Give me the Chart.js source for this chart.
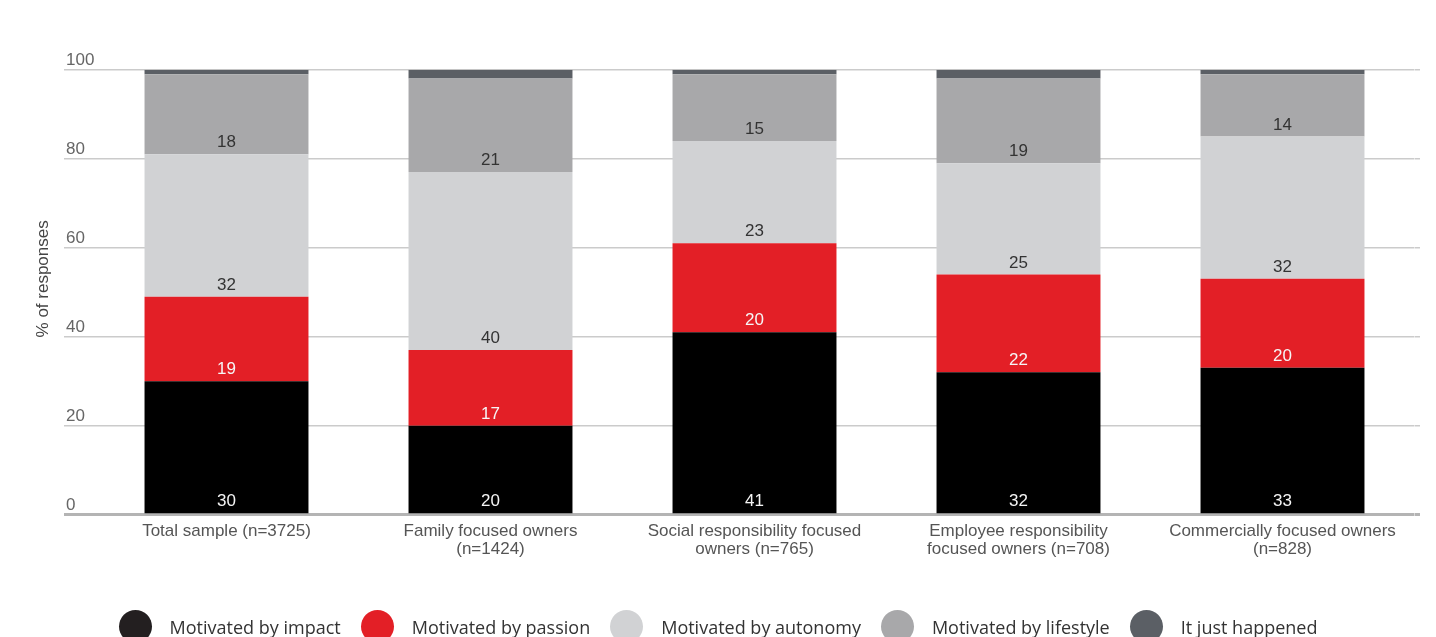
<!DOCTYPE html>
<html>
<head>
<meta charset="utf-8">
<script src="https://cdn.jsdelivr.net/npm/chart.js@4/dist/chart.umd.min.js"></script>
<style>
  html, body { margin: 0; padding: 0; background: #fff; overflow: hidden; }
  #wrap { position: relative; width: 1436px; height: 637px; overflow: hidden; }
  #legend {
    position: absolute; left: 0; top: 610px; width: 1436px; height: 33px;
    display: flex; justify-content: center; align-items: center;
    font-family: 'Open Sans', sans-serif; font-size: 18px; color: #333;
  }
  #legend .item { display: flex; align-items: center; margin-right: 20px; }
  #legend .item:last-child { margin-right: 0; }
  #legend .dot { width: 33px; height: 33px; border-radius: 50%; margin-right: 18px; }
</style>
</head>
<body>
<div id="wrap">
  <canvas id="motivations" width="1436" height="637"></canvas>
  <div id="legend"></div>
</div>
<script>
// categories (x axis labels, split into lines)
const categories = [
  ['Total sample (n=3725)'],
  ['Family focused owners', '(n=1424)'],
  ['Social responsibility focused', 'owners (n=765)'],
  ['Employee responsibility', 'focused owners (n=708)'],
  ['Commercially focused owners', '(n=828)']
]

const seriesNames = ['Motivated by impact', 'Motivated by passion', 'Motivated by autonomy', 'Motivated by lifestyle', 'It just happened']

// % of responses per group
const impact = [30, 20, 41, 32, 33]
const passion = [19, 17, 20, 22, 20]
const autonomy = [32, 40, 23, 25, 32]
const lifestyle = [18, 21, 15, 19, 14]
const justHappened = [1, 2, 1, 2, 1]

const yTicks = [0, 20, 40, 60, 80, 100]

const colors = ['#000000', '#e31f26', '#d1d2d4', '#a8a8aa', '#5b5f65']
const legendColors = ['#231f20', '#e31f26', '#d1d2d4', '#a8a8aa', '#5b5f65']
const labelColors = ['#f4f4f4', '#f6f6f6', '#333333', '#333333', null]

const fontFamily = "'Liberation Sans', Arial, sans-serif"
Chart.defaults.font.family = fontFamily

const seriesData = [impact, passion, autonomy, lifestyle, justHappened]

const prepareData = () => ({
  labels: categories,
  datasets: seriesData.map((values, i) => ({
    label: seriesNames[i],
    data: values,
    backgroundColor: colors[i],
    borderWidth: 0,
    labelColor: labelColors[i],
    categoryPercentage: 1,
    barPercentage: 0.621
  }))
})

// numbers sitting just above the bottom of each segment
const valueLabels = {
  id: 'valueLabels',
  afterDatasetsDraw(chart) {
    const ctx = chart.ctx
    ctx.save()
    ctx.font = '17px ' + fontFamily
    ctx.textAlign = 'center'
    ctx.textBaseline = 'middle'
    chart.data.datasets.forEach((ds, di) => {
      if (!ds.labelColor) return
      chart.getDatasetMeta(di).data.forEach((bar, i) => {
        const {x, base} = bar.getProps(['x', 'base'], true)
        ctx.fillStyle = ds.labelColor
        ctx.fillText(String(ds.data[i]), x, base - 11.5)
      })
    })
    ctx.restore()
  }
}

// rotated y axis title
const yTitle = {
  id: 'yTitle',
  afterDraw(chart) {
    const ctx = chart.ctx
    const y = chart.scales.y.getPixelForValue(53)
    ctx.save()
    ctx.translate(43, y)
    ctx.rotate(-Math.PI / 2)
    ctx.font = '17px ' + fontFamily
    ctx.fillStyle = '#444'
    ctx.textAlign = 'center'
    ctx.textBaseline = 'middle'
    ctx.fillText('% of responses', 0, 0)
    ctx.restore()
  }
}

const gridColor = c => (c.tick && c.tick.value === 0 ? '#b4b4b4' : '#cbcbcb')
const gridWidth = c => (c.tick && c.tick.value === 0 ? 3 : 1.5)

const createChart = (data) => {
  const ctx = document.querySelector('#motivations')
  return new Chart(ctx, {
    type: 'bar',
    data: data,
    plugins: [valueLabels, yTitle],
    options: {
      responsive: false,
      animation: false,
      layout: { padding: { top: 69.7, left: 33, right: 16, bottom: 62.3 } },
      plugins: { legend: { display: false }, tooltip: { enabled: false } },
      scales: {
        x: {
          stacked: true,
          offset: true,
          grid: { display: false, drawTicks: false },
          border: { display: false },
          ticks: {
            color: '#555',
            font: { size: 17, lineHeight: 1.06 },
            padding: 7.8,
            maxRotation: 0,
            autoSkip: false
          },
          afterFit: s => { s.height = 60 }
        },
        y: {
          stacked: true,
          min: yTicks[0],
          max: yTicks[yTicks.length - 1],
          afterBuildTicks: s => { s.ticks = yTicks.map(v => ({ value: v })) },
          ticks: {
            mirror: true,
            padding: -28.5,
            labelOffset: -9.5,
            color: '#666',
            font: { size: 17 }
          },
          grid: { color: gridColor, lineWidth: gridWidth, tickLength: 30.5, drawTicks: true },
          border: { display: false },
          afterFit: s => { s.width = 61.5 }
        },
        y2: {
          position: 'right',
          min: yTicks[0],
          max: yTicks[yTicks.length - 1],
          afterBuildTicks: s => { s.ticks = yTicks.map(v => ({ value: v })) },
          ticks: { display: false },
          grid: { drawOnChartArea: false, color: gridColor, lineWidth: gridWidth, tickLength: 5.5 },
          border: { display: false },
          afterFit: s => { s.width = 5.5 }
        }
      }
    }
  })
}

const buildLegend = () => {
  const el = document.querySelector('#legend')
  seriesNames.forEach((name, i) => {
    const item = document.createElement('div')
    item.className = 'item'
    const dot = document.createElement('span')
    dot.className = 'dot'
    dot.style.background = legendColors[i]
    const txt = document.createElement('span')
    txt.textContent = name
    item.appendChild(dot)
    item.appendChild(txt)
    el.appendChild(item)
  })
}

createChart(prepareData())
buildLegend()
</script>
</body>
</html>
